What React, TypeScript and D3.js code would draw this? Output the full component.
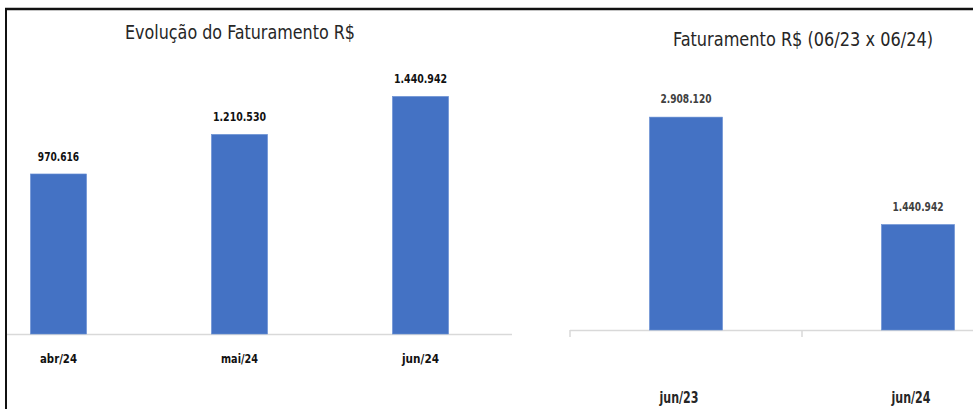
import * as d3 from "d3";

// left chart: monthly revenue
const monthCats = ["abr/24", "mai/24", "jun/24"];
const monthValues = [970616, 1210530, 1440942];

// right chart: year over year
const yoyCats = ["jun/23", "jun/24"];
const yoyValues = [2908120, 1440942];

const W = 973;
const H = 409;
const FONT = "'DejaVu Sans Condensed', 'Liberation Sans Narrow', sans-serif";
const BLUE = "#4472C4";

const fmt = (v: number) => d3.format(",")(v).replace(/,/g, ".");

export default function App() {
  // left chart scales
  const xL = d3.scaleBand<string>().domain(monthCats).range([-32, 511]).paddingInner(0.69).paddingOuter(0.345);
  const yL = d3.scaleLinear().domain([0, 1600000]).range([334, 334 - 1600000 / 6065]);

  // right chart scales
  const xR = d3.scaleBand<string>().domain(yoyCats).range([570, 1034]).paddingInner(0.685).paddingOuter(0.3425);
  const yR = d3.scaleLinear().domain([0, 3200000]).range([330, 330 - 3200000 / 13660]);
  const stepR = xR.step();

  return (
    <svg width={W} height={H} style={{ position: "absolute", left: 0, top: 0, background: "#fff" }}>
      <defs>
        <clipPath id="frame">
          <rect x={7} y={10} width={W - 7} height={H - 10} />
        </clipPath>
      </defs>
      <rect x={0} y={0} width={W} height={H} fill="#fff" />

      <g clipPath="url(#frame)">
        {/* left chart */}
        <text x={240} y={39} textAnchor="middle" fontFamily={FONT} fontSize={19} fill="#262626"
          textLength={230} lengthAdjust="spacingAndGlyphs">
          Evolução do Faturamento R$
        </text>
        <line x1={7} x2={512} y1={334.5} y2={334.5} stroke="#d9d9d9" strokeWidth={1.5} />
        {monthCats.map((c, i) => (
          <g key={c}>
            <rect
              x={xL(c)!}
              y={yL(monthValues[i])}
              width={xL.bandwidth()}
              height={yL(0) - yL(monthValues[i])}
              fill={BLUE}
              stroke="#6a90d4"
              strokeWidth={0.6}
            />
            <text
              x={xL(c)! + xL.bandwidth() / 2}
              y={yL(monthValues[i]) - 13}
              textAnchor="middle"
              fontFamily={FONT}
              fontWeight="bold"
              fontSize={13}
              fill="#111"
              textLength={fmt(monthValues[i]).length * 5.9}
              lengthAdjust="spacingAndGlyphs"
            >
              {fmt(monthValues[i])}
            </text>
            <text
              x={xL(c)! + xL.bandwidth() / 2}
              y={363}
              textAnchor="middle"
              fontFamily={FONT}
              fontWeight="bold"
              fontSize={13}
              fill="#111"
              textLength={37}
              lengthAdjust="spacingAndGlyphs"
            >
              {c}
            </text>
          </g>
        ))}

        {/* right chart */}
        <text x={803} y={46} textAnchor="middle" fontFamily={FONT} fontSize={19} fill="#262626"
          textLength={260} lengthAdjust="spacingAndGlyphs">
          Faturamento R$ (06/23 x 06/24)
        </text>
        <line x1={570} x2={W} y1={330.5} y2={330.5} stroke="#d9d9d9" strokeWidth={1.5} />
        {yoyCats.map((c) => (
          <line
            key={"t" + c}
            x1={xR(c)! - (stepR - xR.bandwidth()) / 2}
            x2={xR(c)! - (stepR - xR.bandwidth()) / 2}
            y1={330}
            y2={337}
            stroke="#d9d9d9"
            strokeWidth={1.5}
          />
        ))}
        {yoyCats.map((c, i) => (
          <g key={c}>
            <rect
              x={xR(c)!}
              y={yR(yoyValues[i])}
              width={xR.bandwidth()}
              height={yR(0) - yR(yoyValues[i])}
              fill={BLUE}
              stroke="#6a90d4"
              strokeWidth={0.6}
            />
            <text
              x={xR(c)! + xR.bandwidth() / 2}
              y={yR(yoyValues[i]) - 14}
              textAnchor="middle"
              fontFamily={FONT}
              fontWeight="bold"
              fontSize={13}
              fill="#404040"
              textLength={51}
              lengthAdjust="spacingAndGlyphs"
            >
              {fmt(yoyValues[i])}
            </text>
            <text
              x={xR(c)! + xR.bandwidth() / 2 - 7}
              y={403}
              textAnchor="middle"
              fontFamily={FONT}
              fontWeight="bold"
              fontSize={15}
              fill="#262626"
              textLength={39}
              lengthAdjust="spacingAndGlyphs"
            >
              {c}
            </text>
          </g>
        ))}
      </g>

      {/* outer frame: top and left only */}
      <line x1={5} x2={W} y1={9} y2={9} stroke="#111" strokeWidth={2.5} />
      <line x1={6} x2={6} y1={8} y2={H} stroke="#111" strokeWidth={2} />
    </svg>
  );
}
